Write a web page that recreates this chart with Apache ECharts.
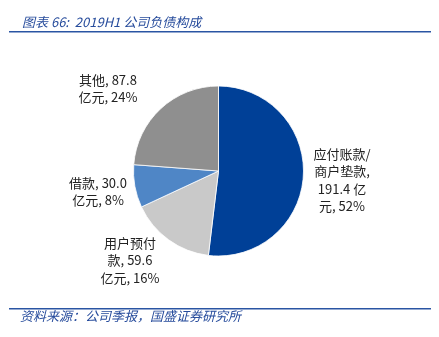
<!DOCTYPE html>
<html>
<head>
<meta charset="utf-8">
<script src="https://cdn.jsdelivr.net/npm/echarts@6/dist/echarts.min.js"></script>
<style>
  html, body { margin: 0; padding: 0; background: #fff; }
  #chart { width: 439px; height: 337px; }
</style>
</head>
<body>
<div id="chart"></div>
<script>
// 2019H1 liability breakdown (亿元)
const categories = ['应付账款/商户垫款', '用户预付款', '借款', '其他'];
const values = [191.4, 59.6, 30.0, 87.8];
const percents = [52, 16, 8, 24];
const labelTexts = [
  '应付账款/\n商户垫款,\n191.4 亿\n元, 52%',
  '用户预付\n款, 59.6\n亿元, 16%',
  '借款, 30.0\n亿元, 8%',
  '其他, 87.8\n亿元, 24%'
];
const colors = ['#004097', '#c9c9c9', '#4f86c6', '#8f8f8f'];
// label block anchors (centre x, top y)
const labelAnchors = [[342, 145], [130, 234], [98, 174], [108, 71]];

const FONT = '"Noto Sans CJK SC", "Noto Sans", sans-serif';
const chart = echarts.init(document.getElementById('chart'));

chart.setOption({
  animation: false,
  title: {
    text: '图表 66:  2019H1 公司负债构成',
    left: 17,
    top: 11,
    textStyle: {
      fontFamily: FONT,
      fontSize: 13,
      fontStyle: 'italic',
      fontWeight: 'normal',
      color: '#274c9c'
    }
  },
  graphic: [
    { type: 'rect', shape: { x: 9, y: 31, width: 422, height: 1.5 }, style: { fill: '#2a55a3' } },
    { type: 'rect', shape: { x: 9, y: 308, width: 422, height: 1.5 }, style: { fill: '#2a55a3' } },
    {
      type: 'text', left: 20, top: 310,
      style: {
        text: '资料来源：公司季报，国盛证券研究所',
        font: 'italic 13px ' + FONT,
        fill: '#274c9c'
      }
    }
  ],
  series: [{
    type: 'pie',
    center: [218.5, 171],
    radius: 85,
    startAngle: 90,
    clockwise: true,
    itemStyle: { borderColor: '#fff', borderWidth: 0.8 },
    label: {
      show: true,
      position: 'outside',
      formatter: p => labelTexts[p.dataIndex],
      fontFamily: FONT,
      fontSize: 13,
      lineHeight: 17.5,
      color: '#222',
      align: 'center'
    },
    labelLine: { show: false },
    labelLayout: p => ({
      x: labelAnchors[p.dataIndex][0],
      y: labelAnchors[p.dataIndex][1],
      align: 'center',
      verticalAlign: 'top'
    }),
    emphasis: { disabled: true },
    data: categories.map((c, i) => ({
      name: c,
      value: values[i],
      itemStyle: { color: colors[i] }
    }))
  }]
});
</script>
</body>
</html>
